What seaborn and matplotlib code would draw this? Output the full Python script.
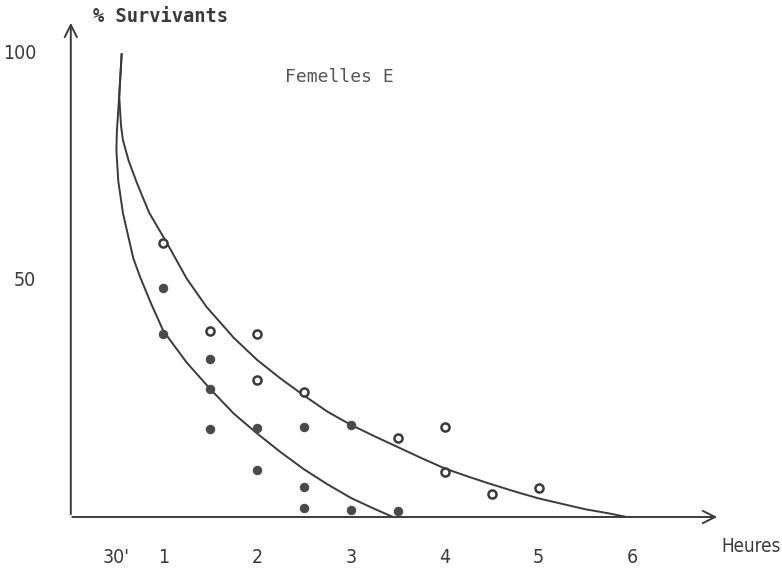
import matplotlib
matplotlib.use("Agg")
import matplotlib.pyplot as plt
import seaborn as sns
import pandas as pd

# ---- data ----
open_hours = [1, 1.5, 2, 2, 2.5, 3.5, 4, 4, 4.5, 5]
open_pct = [60.3, 41, 40.3, 30.2, 27.6, 17.3, 19.8, 10.0, 5.0, 6.4]

filled_hours = [1, 1, 1.5, 1.5, 1.5, 2, 2, 2.5, 2.5, 2.5, 3, 3, 3.5]
filled_pct = [50.4, 40.3, 34.7, 28.2, 19.4, 19.6, 10.4, 19.9, 6.7, 1.9, 20.3, 1.5, 1.3]

upper_curve_hours = [0.556, 0.53, 0.55, 0.57, 0.63, 0.72, 0.85, 1.04, 1.25, 1.46, 1.75,
                     2.0, 2.25, 2.49, 2.75, 3.0, 3.25, 3.49, 3.75, 4.0, 4.25, 4.47,
                     4.75, 5.0, 5.25, 5.5, 5.75, 5.94]
upper_curve_pct = [102, 92.7, 86, 83, 78.5, 73.5, 67, 60.3, 52.5, 46.3, 39.5,
                   34.6, 30.5, 26.9, 23.2, 20.3, 17.8, 15.5, 13.0, 10.7, 8.9, 7.4,
                   5.6, 4.1, 2.9, 1.7, 0.8, 0.0]

lower_curve_hours = [0.556, 0.53, 0.505, 0.50, 0.52, 0.57, 0.68, 0.75, 0.87, 1.0, 1.25,
                     1.5, 1.75, 2.0, 2.25, 2.5, 2.75, 3.0, 3.25, 3.45]
lower_curve_pct = [102, 92.7, 85, 80.8, 74, 66.9, 57, 53, 47, 41, 34,
                   28.2, 22.8, 18.4, 14.3, 10.5, 7.2, 4.2, 1.8, 0.0]

x_ticks = [0.5, 1, 2, 3, 4, 5, 6]
x_tick_labels = ["30'", "1", "2", "3", "4", "5", "6"]
y_ticks = [100, 50]
y_tick_labels = ["100", "50"]

title_text = "Femelles E"
y_label = "% Survivants"
x_label = "Heures"

# ---- drawing ----
sns.set_theme(style="white")
plt.rcParams["font.family"] = ["DejaVu Sans"]

ink = "#3a3a3a"
W, H = 782, 570
fig = plt.figure(figsize=(W / 100, H / 100), dpi=100)

x0_px, px_per_h = 69.5, 93.8
y0_px, px_per_pct = 517, 4.54
right_px, top_px = 720, 20
ax = fig.add_axes([x0_px / W, 1 - y0_px / H, (right_px - x0_px) / W, (y0_px - top_px) / H])
ax.set_xlim(0, (right_px - x0_px) / px_per_h)
ax.set_ylim(0, (y0_px - top_px) / px_per_pct)
ax.patch.set_alpha(0)
for s in ax.spines.values():
    s.set_visible(False)

curves = pd.concat([
    pd.DataFrame({"h": upper_curve_hours, "p": upper_curve_pct, "c": "upper"}),
    pd.DataFrame({"h": lower_curve_hours, "p": lower_curve_pct, "c": "lower"}),
])
sns.lineplot(data=curves, x="h", y="p", units="c", estimator=None, sort=False,
             color=ink, linewidth=1.4, ax=ax, legend=False)

sns.scatterplot(x=open_hours, y=open_pct, marker="o", s=34, facecolor="white",
                edgecolor=ink, linewidth=1.8, ax=ax, zorder=4)
sns.scatterplot(x=filled_hours, y=filled_pct, marker="o", s=36, color="#4a4a4a",
                edgecolor="#4a4a4a", linewidth=0.8, ax=ax, zorder=4)

# axes with arrows
ax.annotate("", xy=(1.0, 0), xytext=(0, 0), xycoords="axes fraction",
            arrowprops=dict(arrowstyle="->", color=ink, lw=1.4, mutation_scale=22))
ax.annotate("", xy=(0.002, 1.0), xytext=(0.002, 0), xycoords="axes fraction",
            arrowprops=dict(arrowstyle="->", color=ink, lw=1.4, mutation_scale=22))

ax.set_xticks(x_ticks)
ax.set_xticklabels(x_tick_labels)
ax.set_yticks(y_ticks)
ax.set_yticklabels(y_tick_labels)
ax.tick_params(axis="x", direction="inout", length=8, width=1.3, color=ink,
               labelsize=14, labelcolor=ink, pad=18)
ax.tick_params(axis="y", direction="out", length=5, width=1.0, color=ink,
               labelsize=14, labelcolor=ink, pad=19)
for lab in ax.get_xticklabels() + ax.get_yticklabels():
    lab.set_fontstretch("condensed")
for lab in ax.get_yticklabels():
    lab.set_va("bottom")
ax.set_xlabel("")
ax.set_ylabel("")

fig.text(93 / W, 1 - 17 / H, y_label, family="DejaVu Sans Mono", fontweight="bold",
         fontsize=13.5, color=ink, va="center", ha="left")
fig.text(285 / W, 1 - 77 / H, title_text, family="DejaVu Sans Mono",
         fontsize=13, color="#555555", va="center", ha="left")
fig.text(721 / W, 1 - 547 / H, x_label, fontstretch="condensed",
         fontsize=13.5, color=ink, va="center", ha="left")

fig.savefig("out.png", dpi=100)
